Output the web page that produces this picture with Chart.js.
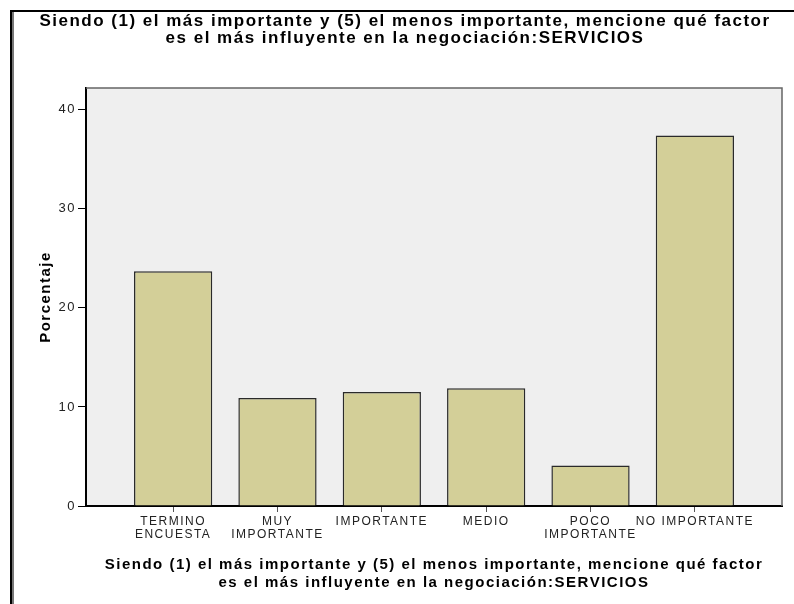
<!DOCTYPE html>
<html>
<head>
<meta charset="utf-8">
<script src="https://cdn.jsdelivr.net/npm/chart.js@4.4.1/dist/chart.umd.min.js"></script>
<style>
	html, body { margin: 0; padding: 0; background: #fff; }
	#wrap { width: 794px; height: 604px; position: relative; }
</style>
</head>
<body>
<div id="wrap"><canvas id="barChart"></canvas></div>
<script>
const categorias = [
	['TERMINO', 'ENCUESTA'],
	['MUY', 'IMPORTANTE'],
	'IMPORTANTE',
	'MEDIO',
	['POCO', 'IMPORTANTE'],
	'NO IMPORTANTE'
];
const porcentajes = [23.7, 10.9, 11.5, 11.9, 4.1, 37.4];
const yTicks = [0, 10, 20, 30, 40];

const titulo = [
	'Siendo (1) el más importante y (5) el menos importante, mencione qué factor',
	'es el más influyente en la negociación:SERVICIOS'
];

// fondo gris del area de trazado + marco de la pagina
const fondoPlugin = {
	id: 'fondo',
	afterLayout(chart) {
		// el titulo de arriba va un poco a la derecha
		if (chart.titleBlock) {
			chart.titleBlock.left = 28;
			chart.titleBlock.right = 782;
		}
	},
	beforeDraw(chart) {
		const ctx = chart.ctx;
		const a = chart.chartArea;
		ctx.letterSpacing = '1.5px';
		ctx.save();
		ctx.fillStyle = '#fff';
		ctx.fillRect(0, 0, chart.width, chart.height);
		ctx.fillStyle = '#efefef';
		ctx.fillRect(a.left, a.top, a.right - a.left, a.bottom - a.top);
		// marco exterior
		ctx.fillStyle = '#000';
		ctx.fillRect(10, 10, chart.width - 10, 2);
		ctx.fillRect(10, 10, 2, chart.height - 10);
		ctx.fillStyle = '#777';
		ctx.fillRect(12, 12, 2, chart.height - 12);
		ctx.restore();
	},
	afterDraw(chart) {
		const ctx = chart.ctx;
		const a = chart.chartArea;
		ctx.save();
		ctx.strokeStyle = '#666';
		ctx.lineWidth = 1.5;
		ctx.beginPath();
		ctx.moveTo(a.left, a.top);
		ctx.lineTo(a.right, a.top);
		ctx.lineTo(a.right, a.bottom);
		ctx.stroke();
		ctx.restore();
	}
};

const ctx = document.getElementById('barChart').getContext('2d');

const myChart = new Chart(ctx, {
	type: 'bar',
	data: {
		datasets: [
			{
				label: 'Porcentaje',
				data: porcentajes.map((v, i) => ({ x: i, y: v })),
				backgroundColor: '#d3cf98',
				borderColor: '#2a2a2a',
				borderWidth: 1.5,
				categoryPercentage: 1,
				barPercentage: 0.75
			}
		]
	},
	options: {
		responsive: true,
		maintainAspectRatio: false,
		animation: false,
		layout: {
			padding: { left: 0, right: 12, top: 0, bottom: 0 }
		},
		plugins: {
			legend: { display: false },
			tooltip: { enabled: false },
			title: {
				display: true,
				text: titulo,
				color: '#000',
				font: { family: 'Liberation Sans', size: 17, weight: 'bold', lineHeight: 1.0 },
				padding: { top: 13, bottom: 41 }
			}
		},
		scales: {
			x: {
				type: 'linear',
				offset: false,
				min: -0.835,
				max: 5.835,
				afterBuildTicks: (axis) => {
					axis.ticks = categorias.map((_, i) => ({ value: i }));
				},
				afterFit: (axis) => { axis.height = 98; },
				grid: {
					offset: false,
					drawOnChartArea: false,
					drawTicks: true,
					tickLength: 6,
					tickColor: '#555'
				},
				border: { color: '#000', width: 2 },
				ticks: {
					color: '#222',
					padding: 3,
					maxRotation: 0,
					autoSkip: false,
					font: { family: 'Liberation Sans', size: 12, lineHeight: 1.1 },
					callback: (value) => categorias[value]
				},
				title: {
					display: true,
					text: titulo,
					color: '#000',
					font: { family: 'Liberation Sans', size: 15, weight: 'bold', lineHeight: 1.2 },
					padding: { top: 4, bottom: 12 }
				}
			},
			y: {
				min: 0,
				max: 42.2,
				afterBuildTicks: (axis) => {
					axis.ticks = yTicks.map(v => ({ value: v }));
				},
				afterFit: (axis) => { axis.width = 86; },
				grid: {
					drawOnChartArea: false,
					drawTicks: true,
					tickLength: 8,
					tickColor: '#000'
				},
				border: { color: '#000', width: 2 },
				ticks: {
					color: '#222',
					padding: 2,
					font: { family: 'Liberation Sans', size: 13 }
				},
				title: {
					display: true,
					text: 'Porcentaje',
					color: '#000',
					font: { family: 'Liberation Sans', size: 15, weight: 'bold', lineHeight: 1.2 },
					padding: { top: 37, bottom: 0 }
				}
			}
		}
	},
	plugins: [fondoPlugin]
});
</script>
</body>
</html>
